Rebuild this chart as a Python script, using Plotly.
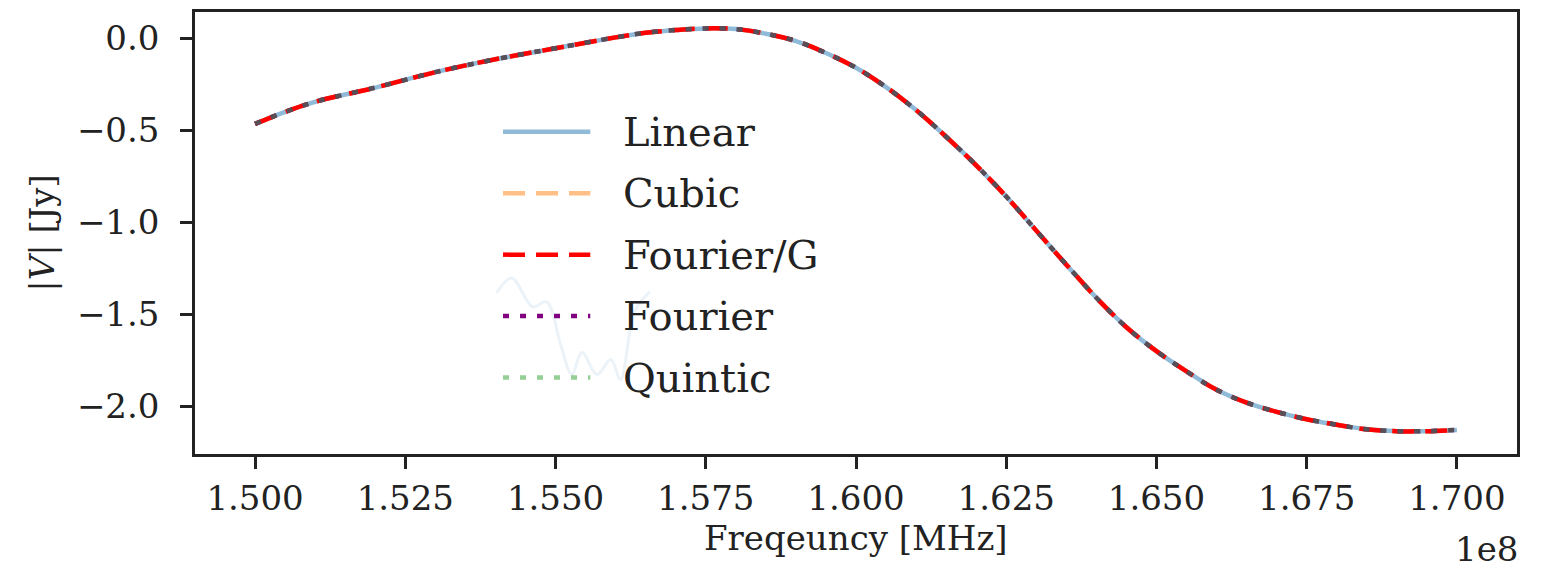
import plotly.graph_objects as go

# frequency samples [Hz] and |V| [Jy]
freq = [1.500e8, 1.505e8, 1.510e8, 1.520e8, 1.530e8, 1.540e8, 1.550e8, 1.560e8,
        1.565e8, 1.570e8, 1.575e8, 1.580e8, 1.585e8, 1.590e8, 1.595e8, 1.600e8,
        1.605e8, 1.610e8, 1.615e8, 1.620e8, 1.625e8, 1.630e8, 1.635e8, 1.640e8,
        1.645e8, 1.650e8, 1.655e8, 1.660e8, 1.665e8, 1.670e8, 1.675e8, 1.680e8,
        1.685e8, 1.690e8, 1.695e8, 1.700e8]
vis = [-0.465, -0.40, -0.345, -0.268, -0.184, -0.114, -0.054, 0.005,
       0.030, 0.045, 0.054, 0.050, 0.025, -0.015, -0.080, -0.160,
       -0.265, -0.390, -0.535, -0.690, -0.860, -1.045, -1.230, -1.410,
       -1.570, -1.700, -1.810, -1.910, -1.980, -2.030, -2.070, -2.100,
       -2.125, -2.135, -2.135, -2.128]

# faint residual curve visible behind the legend
ghost_freq = [1.5402e8, 1.5427e8, 1.5462e8, 1.5485e8, 1.5509e8, 1.5527e8,
              1.5544e8, 1.5569e8, 1.5592e8, 1.5608e8, 1.5632e8, 1.5657e8]
ghost_vis = [-1.384, -1.303, -1.459, -1.432, -1.670, -1.827,
             -1.708, -1.827, -1.746, -1.854, -1.481, -1.378]

names = ["Linear", "Cubic", "Fourier/G", "Fourier", "Quintic"]
colors = ["rgba(31,119,180,0.5)", "rgba(255,127,14,0.5)", "red",
          "purple", "rgba(44,160,44,0.5)"]
dashes = ["solid", "22px,11px", "22px,11px", "6px,11px", "6px,11px"]

x_ticks = [1.500e8, 1.525e8, 1.550e8, 1.575e8, 1.600e8, 1.625e8, 1.650e8, 1.675e8, 1.700e8]
x_labels = ["1.500", "1.525", "1.550", "1.575", "1.600", "1.625", "1.650", "1.675", "1.700"]
y_ticks = [0.0, -0.5, -1.0, -1.5, -2.0]
y_labels = ["0.0", "\u22120.5", "\u22121.0", "\u22121.5", "\u22122.0"]

fig = go.Figure()
fig.add_trace(go.Scatter(x=ghost_freq, y=ghost_vis, mode="lines", showlegend=False,
                         hoverinfo="skip", line=dict(color="rgba(31,119,180,0.09)", width=3,
                                                     shape="spline")))
for n, c, d in zip(names, colors, dashes):
    fig.add_trace(go.Scatter(x=freq, y=vis, name=n, mode="lines", showlegend=False,
                             line=dict(color=c, dash=d, width=4.5, shape="spline")))

# legend drawn by hand so the handles are as long as matplotlib's
shapes = []
annots = []
for i, (n, c, d) in enumerate(zip(names, colors, dashes)):
    yy = 0.729 - i * 0.139
    shapes.append(dict(type="line", xref="paper", yref="paper", x0=0.233, x1=0.299,
                       y0=yy, y1=yy, line=dict(color=c, dash=d, width=4.5)))
    annots.append(dict(text=n, xref="paper", yref="paper", x=0.322, y=yy,
                       xanchor="left", yanchor="middle", showarrow=False,
                       font=dict(size=40, color="#222")))
annots.append(dict(text="Freqeuncy [MHz]", xref="paper", yref="paper", x=0.5, y=-0.190,
                   xanchor="center", yanchor="middle", showarrow=False,
                   font=dict(size=34, color="#222")))
annots.append(dict(text="1e8", xref="paper", yref="paper", x=1.002, y=-0.216,
                   xanchor="right", yanchor="middle", showarrow=False,
                   font=dict(size=34, color="#222")))

axis_style = dict(showline=True, mirror=True, linecolor="#222", linewidth=2.5,
                  ticks="outside", ticklen=12, tickwidth=2.5, tickcolor="#222",
                  showgrid=False, zeroline=False,
                  tickfont=dict(family="DejaVu Serif", size=34, color="#222"))

# page body adds an 8px offset, so the figure is sized to 1534x560
fig.update_layout(
    width=1534, height=560,
    margin=dict(l=187, r=25, t=1, b=114),
    plot_bgcolor="white", paper_bgcolor="white",
    font=dict(family="DejaVu Serif", color="#222"),
    xaxis=dict(range=[1.49e8, 1.71e8], tickvals=x_ticks, ticktext=x_labels,
               **axis_style),
    yaxis=dict(range=[-2.259, 0.143], tickvals=y_ticks, ticktext=y_labels,
               ticklabelstandoff=14,
               title=dict(text="|<i>V</i>| [Jy]", font=dict(size=34), standoff=12),
               **axis_style),
    shapes=shapes,
    annotations=annots,
)

fig.write_html("out.html")
